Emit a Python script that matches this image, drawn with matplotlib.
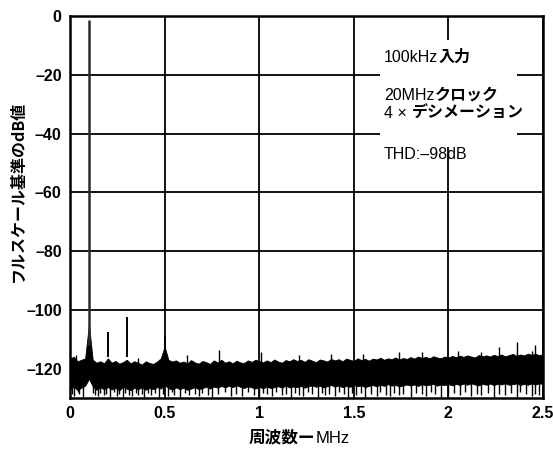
# スペクトル図 (100kHz入力, 20MHzクロック, 4xデシメーション)
import matplotlib
matplotlib.use("Agg")
import matplotlib.pyplot as plt
from matplotlib.patches import Rectangle
import numpy as np

LATIN = "Liberation Sans"
JP = ["Noto Sans CJK JP", "DejaVu Sans"]

# 周波数軸 (MHz), 0.02MHz刻み
freq = np.linspace(0.0, 2.5, 126)

# ノイズ帯の上端 (dB)
noise_top = [
    -116.5, -116.0, -117.5, -117.0, -116.5, -105.0, -117.0, -118.0, -117.5, -118.2,
    -116.5, -118.0, -117.4, -118.3, -117.8, -117.0, -118.2, -117.5, -118.0, -118.6,
    -117.5, -118.1, -118.4, -117.6, -116.5, -112.5, -117.0, -117.6, -117.2, -118.0,
    -117.6, -118.2, -117.1, -117.9, -118.3, -117.4, -117.8, -118.4, -117.2, -117.9,
    -117.0, -118.0, -117.5, -118.2, -117.3, -117.9, -118.1, -117.2, -117.7, -117.0,
    -117.4, -117.9, -117.2, -117.8, -116.9, -117.6, -118.0, -117.1, -117.5, -116.8,
    -117.4, -117.0, -117.7, -116.8, -117.3, -117.8, -116.9, -117.2, -117.6, -116.7,
    -117.2, -116.8, -117.5, -116.6, -117.0, -117.4, -116.5, -117.1, -116.7, -117.3,
    -116.6, -116.9, -116.3, -117.0, -116.5, -116.8, -116.2, -116.9, -116.4, -116.7,
    -116.1, -116.6, -115.9, -116.4, -116.0, -116.5, -115.8, -116.2, -116.5, -115.9,
    -116.2, -115.7, -116.1, -115.6, -116.0, -115.5, -115.9, -116.2, -115.4, -115.8,
    -115.5, -115.9, -115.3, -115.7, -115.2, -115.8, -115.4, -115.0, -115.6, -115.2,
    -115.5, -114.9, -115.3, -115.0, -115.4, -115.1,
]

# ノイズ帯の下端 (dB)
noise_bottom = [
    -127.0, -126.2, -127.3, -126.5, -125.8, -123.5, -126.0, -127.2, -126.4, -127.0,
    -126.3, -127.1, -126.6, -127.4, -126.2, -126.9, -127.3, -126.5, -127.0, -126.4,
    -127.2, -126.6, -127.0, -126.3, -126.8, -125.5, -126.7, -127.1, -126.4, -127.0,
    -126.5, -127.2, -126.8, -126.3, -127.0, -126.6, -126.2, -126.8, -126.1, -126.5,
    -125.9, -126.4, -125.8, -126.3, -125.7, -126.2, -126.6, -126.0, -126.4, -126.8,
    -126.2, -126.7, -126.1, -126.6, -126.3, -126.0, -126.5, -125.8, -126.4, -126.1,
    -126.3, -125.9, -126.5, -126.0, -125.7, -126.2, -125.8, -126.4, -126.0, -125.6,
    -126.1, -125.8, -126.3, -125.9, -126.2, -125.6, -126.0, -125.7, -126.3, -125.9,
    -125.6, -126.0, -125.5, -125.9, -125.3, -125.8, -125.5, -126.1, -125.7, -125.4,
    -125.8, -125.4, -125.9, -125.3, -125.7, -125.5, -125.2, -125.8, -125.4, -125.6,
    -125.3, -125.7, -125.2, -125.6, -125.1, -125.5, -125.0, -125.4, -125.7, -125.2,
    -125.5, -125.1, -125.6, -125.2, -125.4, -125.0, -125.5, -125.3, -125.1, -125.6,
    -125.2, -125.5, -125.1, -125.4, -125.0, -125.3,
]

# ノイズの落ち込み
dip_freqs = [0.01, 0.02, 0.04, 0.05, 0.07, 0.12, 0.13, 0.15, 0.16, 0.18, 0.19, 0.21,
             0.23, 0.25, 0.26, 0.28, 0.29, 0.31, 0.33, 0.35, 0.36, 0.38, 0.39, 0.41,
             0.43, 0.45, 0.47, 0.49, 0.52, 0.54, 0.55, 0.58, 0.61, 0.63, 0.66, 0.68,
             0.70, 0.73, 0.75, 0.78, 0.82, 0.85, 0.88, 0.91, 0.94, 0.97, 1.00, 1.02,
             1.04, 1.07, 1.09, 1.12, 1.14, 1.17, 1.19, 1.21, 1.23, 1.26, 1.28, 1.31,
             1.33, 1.35, 1.37, 1.40, 1.42, 1.45, 1.47, 1.49, 1.51, 1.54, 1.56, 1.59,
             1.62, 1.64, 1.67, 1.69, 1.71, 1.74, 1.76, 1.80, 1.83, 1.86, 1.88, 1.91,
             1.93, 1.96, 2.00, 2.03, 2.06, 2.09, 2.12, 2.15, 2.17, 2.21, 2.24, 2.27,
             2.30, 2.33, 2.36, 2.38, 2.41, 2.44, 2.46, 2.48]
dip_levels = [-128.8, -129.3, -128.1, -128.6, -129.5, -128.2, -128.9, -129.4, -128.3, -129.0, -128.5, -129.5,
              -128.1, -129.2, -128.6, -129.5, -128.3, -128.9, -129.4, -128.2, -129.0, -128.7, -129.5, -128.4,
              -129.1, -128.2, -129.5, -128.7, -129.3, -128.0, -128.9, -129.5, -128.4, -129.1, -128.6, -129.4,
              -128.2, -129.0, -129.5, -128.5, -128.0, -129.2, -128.6, -129.4, -128.1, -129.0, -129.5, -128.3,
              -128.8, -129.3, -128.1, -129.0, -128.5, -129.5, -128.2, -128.9, -129.4, -128.0, -128.7, -129.5,
              -128.3, -129.1, -128.6, -129.3, -128.0, -128.8, -129.5, -128.4, -129.0, -128.2, -129.5, -128.6,
              -129.2, -128.1, -128.9, -129.4, -128.3, -129.0, -128.6, -129.5, -128.2, -128.8, -129.3, -128.0,
              -128.7, -129.5, -129.2, -128.3, -128.9, -128.1, -129.4, -128.5, -129.0, -128.2, -129.5, -128.6,
              -128.9, -128.3, -129.5, -128.1, -128.8, -129.3, -128.5, -129.0]

# ノイズのピーク
peak_freqs = [0.03, 0.36, 0.62, 0.79, 1.01, 1.21, 1.38, 1.55, 1.74, 1.86, 2.05, 2.17, 2.27, 2.36, 2.44, 2.46]
peak_levels = [-115.5, -116.3, -115.5, -113.5, -114.5, -115.3, -115.0, -115.0, -114.5, -114.5, -114.0, -114.5,
               -112.7, -111.0, -114.0, -112.0]

# 基本波と高調波
tone_freqs = [0.1, 0.2, 0.3, 0.5]
tone_levels = [-1.5, -107.5, -102.5, -109.0]

x_ticks = [0, 0.5, 1, 1.5, 2, 2.5]
x_ticklabels = ["0", "0.5", "1", "1.5", "2", "2.5"]
y_ticks = [0, -20, -40, -60, -80, -100, -120]
y_ticklabels = ["0", "\u201320", "\u201340", "\u201360", "\u201380", "\u2013100", "\u2013120"]


def put_pieces(ax, x, y, pieces, size, transform=None):
    # 欧文は標準、和文は太字で並べる
    prev = None
    for s, fam, weight in pieces:
        if prev is None:
            prev = ax.text(x, y, s, family=fam, fontweight=weight, fontsize=size,
                           ha="left", va="bottom",
                           transform=transform if transform is not None else ax.transData,
                           zorder=5)
        else:
            prev = ax.annotate(s, xy=(1, 0), xycoords=prev, family=fam,
                               fontweight=weight, fontsize=size,
                               ha="left", va="bottom", zorder=5)
    return prev


fig = plt.figure(figsize=(5.53, 4.5), dpi=100)
ax = fig.add_axes([0.1266, 0.1156, 0.8553, 0.8488])

ax.fill_between(freq, noise_bottom, noise_top, color="black", lw=0.6, zorder=3)
ax.vlines(dip_freqs, -124, dip_levels, color="black", lw=1.0, zorder=3)
ax.vlines(peak_freqs, -118, peak_levels, color="black", lw=1.0, zorder=3)
ax.vlines(tone_freqs[0], -112, tone_levels[0], color="#2b2b2b", lw=1.8, zorder=3)
ax.vlines(tone_freqs[1:], -116, tone_levels[1:], color="black", lw=1.4, zorder=3)

ax.set_xlim(0, 2.5)
ax.set_ylim(-130, 0)
ax.set_xticks(x_ticks)
ax.set_xticklabels(x_ticklabels)
ax.set_yticks(y_ticks)
ax.set_yticklabels(y_ticklabels)
ax.tick_params(length=0, pad=6)
for lab in ax.get_xticklabels() + ax.get_yticklabels():
    lab.set_family(LATIN)
    lab.set_fontweight("bold")
    lab.set_fontsize(11.5)

ax.set_axisbelow(True)
ax.grid(True, color="black", lw=1.3)
for sp in ax.spines.values():
    sp.set_linewidth(1.8)
    sp.set_zorder(6)

# 注記の背景
ax.add_patch(Rectangle((1.64, -44.5), 0.72, 36.5, facecolor="white", edgecolor="none", zorder=2))

put_pieces(ax, 1.66, -16.6, [("100kHz", LATIN, "normal"), ("入力", JP, "bold")], 11.5)
put_pieces(ax, 1.66, -29.6, [("20MHz", LATIN, "normal"), ("クロック", JP, "bold")], 11.5)
put_pieces(ax, 1.66, -35.8, [("4 \u00d7 ", LATIN, "normal"), ("デシメーション", JP, "bold")], 11.5)
ax.text(1.66, -49.6, "THD:\u201398dB", family=LATIN, fontsize=11.5, ha="left", va="bottom", zorder=5)

# 軸ラベル
fig.text(0.032, 0.575, "フルスケール基準のdB値", family=JP, fontweight="bold", fontsize=11.5,
         rotation=90, ha="center", va="center")
put_pieces(ax, 0.45, 0.008, [("周波数ー", JP, "bold"), ("MHz", LATIN, "normal")], 12,
           transform=fig.transFigure)

fig.savefig("out.png", dpi=100)
